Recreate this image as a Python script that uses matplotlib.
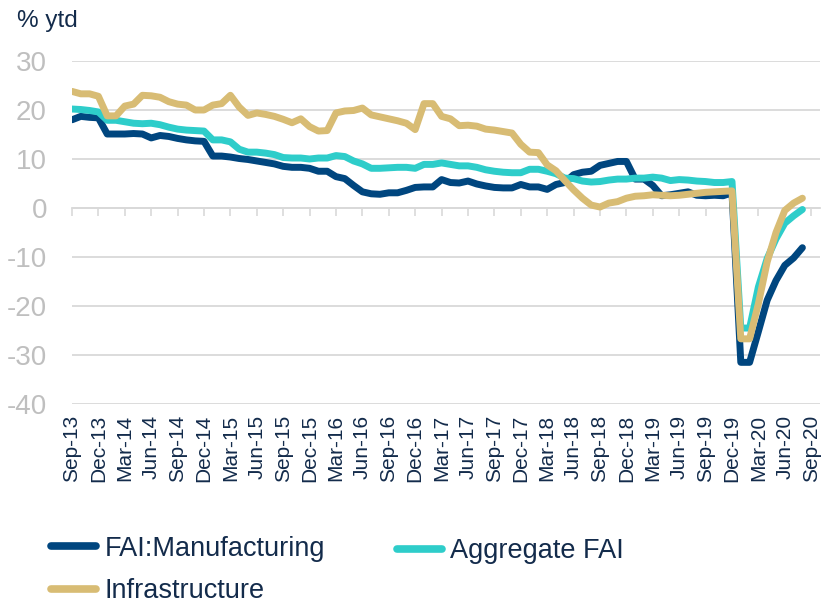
import matplotlib
matplotlib.use("Agg")
import matplotlib.pyplot as plt
from matplotlib.lines import Line2D

plt.rcParams['font.family'] = ['Liberation Sans', 'DejaVu Sans']
plt.rcParams['axes.unicode_minus'] = False

# monthly % ytd, Sep-13 .. Aug-20 (Jan shown equal to Jan-Feb figure)
manufacturing = [18.0, 18.7, 18.5, 18.4,
                 15.1, 15.1, 15.1, 15.2, 15.1, 14.3, 14.8, 14.6, 14.2, 13.9, 13.7, 13.6,
                 10.6, 10.6, 10.4, 10.1, 9.9, 9.6, 9.3, 9.0, 8.5, 8.3, 8.3, 8.1,
                 7.5, 7.5, 6.4, 6.0, 4.6, 3.3, 2.9, 2.8, 3.1, 3.1, 3.6, 4.2,
                 4.3, 4.3, 5.8, 5.2, 5.1, 5.5, 4.9, 4.5, 4.2, 4.1, 4.1, 4.8,
                 4.3, 4.3, 3.8, 4.8, 5.2, 6.8, 7.3, 7.5, 8.7, 9.1, 9.5, 9.5,
                 5.9, 5.9, 4.6, 2.5, 2.7, 3.0, 3.3, 2.6, 2.5, 2.6, 2.5, 3.1,
                 -31.5, -31.5, -25.2, -18.8, -14.8, -11.7, -10.2, -8.1]

aggregate = [20.2, 20.1, 19.9, 19.6,
             17.9, 17.9, 17.6, 17.3, 17.2, 17.3, 17.0, 16.5, 16.1, 15.9, 15.8, 15.7,
             13.9, 13.9, 13.5, 12.0, 11.4, 11.4, 11.2, 10.9, 10.3, 10.2, 10.2, 10.0,
             10.2, 10.2, 10.7, 10.5, 9.6, 9.0, 8.1, 8.1, 8.2, 8.3, 8.3, 8.1,
             8.9, 8.9, 9.2, 8.9, 8.6, 8.6, 8.3, 7.8, 7.5, 7.3, 7.2, 7.2,
             7.9, 7.9, 7.5, 7.0, 6.1, 6.0, 5.5, 5.3, 5.4, 5.7, 5.9, 5.9,
             6.1, 6.1, 6.3, 6.1, 5.6, 5.8, 5.7, 5.5, 5.4, 5.2, 5.2, 5.4,
             -24.5, -24.5, -16.1, -10.3, -6.3, -3.1, -1.6, -0.3]

infrastructure = [23.8, 23.3, 23.3, 22.8,
                  18.8, 18.8, 20.8, 21.2, 23.0, 22.9, 22.6, 21.7, 21.2, 21.0, 20.0, 20.0,
                  21.0, 21.3, 23.0, 20.6, 18.9, 19.4, 19.1, 18.7, 18.1, 17.4, 18.2, 16.6,
                  15.7, 15.8, 19.4, 19.8, 19.9, 20.4, 19.0, 18.6, 18.2, 17.8, 17.3, 16.0,
                  21.3, 21.3, 18.7, 18.2, 16.8, 16.9, 16.7, 16.1, 15.9, 15.6, 15.3, 13.0,
                  11.4, 11.3, 8.8, 7.6, 5.6, 3.7, 2.0, 0.6, 0.2, 1.0, 1.3, 2.0,
                  2.4, 2.5, 2.7, 2.6, 2.5, 2.6, 2.8, 3.0, 3.2, 3.3, 3.4, 3.5,
                  -26.7, -26.7, -19.5, -11.0, -5.0, -0.5, 1.0, 2.0]

tick_labels = ['Sep-13', 'Dec-13', 'Mar-14', 'Jun-14', 'Sep-14', 'Dec-14', 'Mar-15', 'Jun-15',
               'Sep-15', 'Dec-15', 'Mar-16', 'Jun-16', 'Sep-16', 'Dec-16', 'Mar-17', 'Jun-17',
               'Sep-17', 'Dec-17', 'Mar-18', 'Jun-18', 'Sep-18', 'Dec-18', 'Mar-19', 'Jun-19',
               'Sep-19', 'Dec-19', 'Mar-20', 'Jun-20', 'Sep-20']

NAVY = '#00467F'
TEAL = '#2ECDCA'
GOLD = '#D8BC74'
TEXT = '#132B4B'
GRID = '#D9D9D9'

fig = plt.figure(figsize=(8.28, 6.05), dpi=100)
ax = fig.add_axes([72/828, 1-404/605, (820-72)/828, (404-61)/605])

x = list(range(len(manufacturing)))
lw = 5.0
ax.plot(x, manufacturing, color=NAVY, lw=lw, solid_capstyle='round', solid_joinstyle='round', zorder=3)
ax.plot(x, aggregate, color=TEAL, lw=lw, solid_capstyle='round', solid_joinstyle='round', zorder=4)
ax.plot(x, infrastructure, color=GOLD, lw=lw, solid_capstyle='round', solid_joinstyle='round', zorder=5)

ax.set_xlim(0, 85)
ax.set_ylim(-40, 30)
ax.set_yticks(range(-40, 31, 10))
ax.grid(axis='y', color=GRID, lw=1.3)
ax.set_axisbelow(True)
for s in ax.spines.values():
    s.set_visible(False)
ax.tick_params(axis='y', length=0, pad=18, labelsize=20, labelcolor='#BFBFBF')

ticks = list(range(0, 85, 3))
ax.set_xticks(ticks)
ax.set_xticklabels(tick_labels, rotation=90, va='top', ha='center')
ax.tick_params(axis='x', length=0, pad=8, labelsize=15, labelcolor=TEXT)

# small tick marks hanging from the zero line
sec = ax.secondary_xaxis(4/7)
sec.set_xticks(ticks)
sec.set_xticklabels([])
sec.tick_params(axis='x', direction='out', length=6, width=1.2, color=GRID,
                bottom=True, top=False, labelbottom=False, labeltop=False)
for s in sec.spines.values():
    s.set_color(GRID)
    s.set_linewidth(1.3)

fig.text(17/828, 1-21/605, '% ytd', fontsize=17.5, color=TEXT, va='center', ha='left')

def handle(c):
    return Line2D([], [], color=c, lw=5.5, solid_capstyle='round')

leg_kw = dict(frameon=False, fontsize=19.5, handlelength=1.67, handletextpad=0.3,
              borderpad=0, borderaxespad=0, labelspacing=0.6, labelcolor=TEXT, loc='center left')
leg1 = fig.legend([handle(NAVY), handle(GOLD)], ['FAI:Manufacturing', 'Infrastructure'],
                  bbox_to_anchor=(51/828, 1-570/605), **leg_kw)
leg2 = fig.legend([handle(TEAL)], ['Aggregate FAI'],
                  bbox_to_anchor=(397/828, 1-551/605), **leg_kw)

fig.savefig('out.png', dpi=100)
